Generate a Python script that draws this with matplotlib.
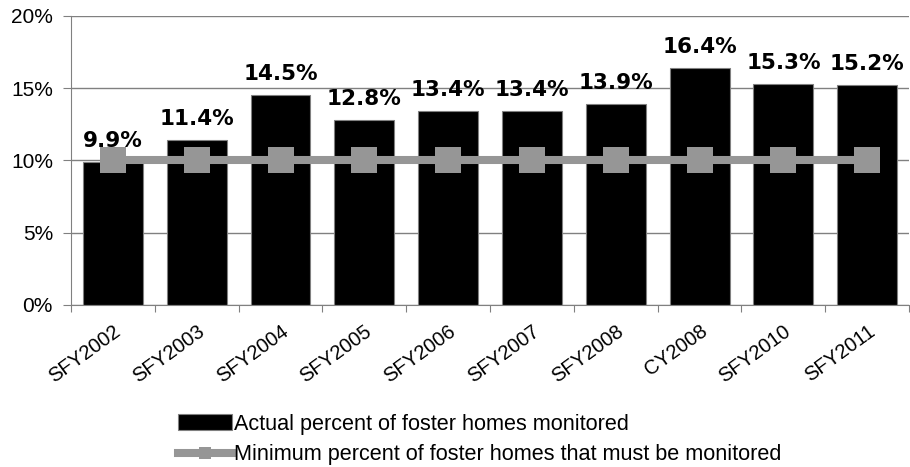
import numpy as np
import matplotlib
matplotlib.use("Agg")
import matplotlib.pyplot as plt
from matplotlib.patches import Rectangle
from matplotlib.legend_handler import HandlerPatch

# data
years = ["SFY2002", "SFY2003", "SFY2004", "SFY2005", "SFY2006",
         "SFY2007", "SFY2008", "CY2008", "SFY2010", "SFY2011"]
actual = [9.9, 11.4, 14.5, 12.8, 13.4, 13.4, 13.9, 16.4, 15.3, 15.2]
minimum = [10, 10, 10, 10, 10, 10, 10, 10, 10, 10]

plt.rcParams['font.family'] = ['Liberation Sans', 'DejaVu Sans']

fig = plt.figure(figsize=(9.1, 4.67), dpi=100)
ax = fig.add_axes([0.078, 0.347, 0.921, 0.619])

x = np.arange(len(years))
bars = ax.bar(x, actual, width=0.715, color='black', edgecolor='#808080',
              linewidth=0.8, zorder=2, label='Actual percent of foster homes monitored')
line, = ax.plot(x, minimum, color='#969696', linewidth=5.8, marker='s', markersize=18.5,
                markeredgewidth=0, zorder=3,
                label='Minimum percent of foster homes that must be monitored')

for xi, v in zip(x, actual):
    ax.annotate(f"{v:.1f}%", (xi, v), xytext=(0, 8), textcoords='offset points',
                ha='center', va='bottom', fontsize=15.5, fontweight='bold',
                family='DejaVu Sans', zorder=4)

ax.set_xlim(-0.5, len(years) - 0.5)
ax.set_ylim(0, 20)
ax.set_yticks([0, 5, 10, 15, 20])
ax.set_yticklabels([f"{t}%" for t in [0, 5, 10, 15, 20]], fontsize=15)
ax.yaxis.grid(True, color='#808080', linewidth=1.0, zorder=0)
ax.set_axisbelow(True)

# category ticks between bars, labels at centres
ax.set_xticks(np.arange(len(years) + 1) - 0.5)
ax.set_xticklabels([])
ax.set_xticks(x, minor=True)
ax.set_xticklabels(years, minor=True, rotation=36, ha='right',
                   rotation_mode='anchor', fontsize=14.5)
ax.tick_params(axis='x', which='minor', length=0, pad=12)
ax.tick_params(axis='x', which='major', length=5, color='#808080')
ax.tick_params(axis='y', length=6, color='#808080', pad=7)

for s in ['top', 'right']:
    ax.spines[s].set_visible(False)
ax.spines['left'].set_color('#808080')
ax.spines['bottom'].set_color('#808080')


def thin_patch(legend, orig, xdescent, ydescent, width, height, fontsize):
    return Rectangle((-xdescent, -ydescent + height * 0.2), width, height * 0.6)


fig.legend([bars, line], [bars.get_label(), line.get_label()],
           loc='upper left', bbox_to_anchor=(0.186, 0.133),
           frameon=False, fontsize=15.6, handlelength=2.5, handletextpad=0.1,
           labelspacing=0.45, borderaxespad=0, markerscale=0.5,
           handler_map={Rectangle: HandlerPatch(patch_func=thin_patch)})

fig.savefig("out.png", dpi=100)
